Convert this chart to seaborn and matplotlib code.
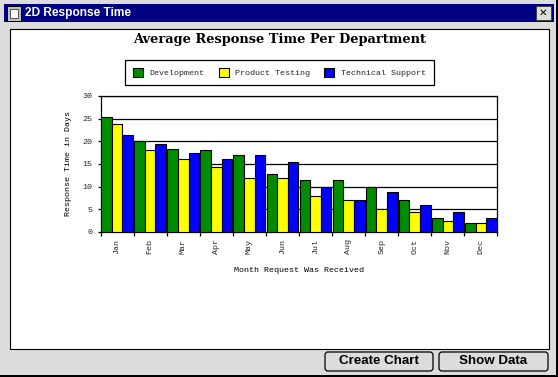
import pandas as pd
import seaborn as sns
import matplotlib.pyplot as plt
from matplotlib.patches import Rectangle, FancyBboxPatch

months = ['Jan', 'Feb', 'Mar', 'Apr', 'May', 'Jun', 'Jul', 'Aug', 'Sep', 'Oct', 'Nov', 'Dec']
development = [25.3, 20, 18.3, 18, 17, 12.8, 11.5, 11.5, 10, 7, 3, 2]
product_testing = [23.8, 18, 16, 14.4, 12, 12, 8, 7, 5, 4.4, 2.5, 2]
technical_support = [21.4, 19.5, 17.5, 16, 17, 15.4, 10, 7, 8.9, 6, 4.5, 3]
y_ticks = [0, 5, 10, 15, 20, 25, 30]

W, H = 558, 377

sns.set_style('white')
plt.rcParams['font.family'] = ['Liberation Mono', 'DejaVu Sans']

df = pd.DataFrame({
    'month': months * 3,
    'days': development + product_testing + technical_support,
    'dept': ['Development'] * 12 + ['Product Testing'] * 12 + ['Technical Support'] * 12,
})

fig = plt.figure(figsize=(W / 100, H / 100), dpi=100, facecolor='#dcdcdc')


def box(x0, y0, x1, y1, **kw):
    # pixel coords from the top left
    r = Rectangle((x0 / W, 1 - y1 / H), (x1 - x0) / W, (y1 - y0) / H,
                  transform=fig.transFigure, **kw)
    fig.add_artist(r)


def label(x, y, s, **kw):
    fig.text(x / W, 1 - y / H, s, ha='center', va='center', **kw)


def button(x0, y0, x1, y1, s):
    p = FancyBboxPatch((x0, H - y1), x1 - x0, y1 - y0, boxstyle='round,pad=0,rounding_size=3',
                       transform=None, fc='#dcdcdc', ec='black', lw=0.9)
    fig.add_artist(p)
    label((x0 + x1) / 2, (y0 + y1) / 2, s, family='Liberation Sans', weight='bold',
          fontsize=9.6, color='black')


# window frame
box(0, 0, W, H, fc='#dcdcdc', ec='none')
box(0, 375, W, H, fc='black', ec='none')
box(556, 0, W, H, fc='black', ec='none')
box(4, 4, 554, 22, fc='#000080', ec='none')
box(7, 6, 21, 21, fc='#c0c0c0', ec='black', lw=0.7)
box(10, 9, 18, 18, fc='white', ec='#404040', lw=0.6)
box(536, 6, 551, 20, fc='#dcdcdc', ec='#404040', lw=0.7)
label(543.5, 13, '✕', family='DejaVu Sans', fontsize=7.5, color='black')
fig.text(25 / W, 1 - 13 / H, '2D Response Time', family='Liberation Sans', weight='bold',
         fontsize=8.6, color='white', ha='left', va='center')
box(9.5, 28.5, 548.5, 348.5, fc='white', ec='black', lw=0.8)
button(325, 352, 433, 371, 'Create Chart')
button(439, 352, 548, 371, 'Show Data')

ax = fig.add_axes([100.5 / W, 1 - 232 / H, 397 / W, 136 / H])
ax.set_zorder(5)  # keep it above the window patches
ax.set_facecolor('white')
sns.barplot(data=df, x='month', y='days', hue='dept', order=months,
            palette=['#008c00', '#ffff00', '#0000ff'], saturation=1, width=0.96,
            edgecolor='black', linewidth=0.8, errorbar=None, zorder=3, ax=ax)

ax.set_xlim(-0.5, 11.5)
ax.set_ylim(0, 30)
ax.set_yticks(y_ticks)
ax.yaxis.grid(True, color='black', lw=0.9, zorder=1)
ax.set_axisbelow(True)
ax.set_xticks([i + 0.5 for i in range(-1, 12)], [''] * 13)
ax.set_xticks(range(12), months, minor=True, rotation=90, fontsize=6)
ax.tick_params(axis='x', which='major', bottom=True, length=3, width=0.9, color='black')
ax.tick_params(axis='x', which='minor', bottom=False, length=0, pad=5)
ax.tick_params(axis='y', left=True, length=2.5, width=0.9, color='black', labelsize=6, pad=3.5)
for s in ax.spines.values():
    s.set_visible(True)
    s.set_color('black')
    s.set_linewidth(0.9)

ax.set_xlabel('Month Request Was Received', fontsize=6, color='black')
ax.xaxis.set_label_coords(0.5, -0.255)
ax.set_ylabel('Response Time in Days', fontsize=6, color='black')
ax.yaxis.set_label_coords(-0.072, 0.5)

handles, names = ax.get_legend_handles_labels()
leg = ax.legend(handles, names, ncol=3, loc='center', bbox_to_anchor=(279.5 / W, 1 - 72.5 / H),
                bbox_transform=fig.transFigure, fontsize=6, frameon=True, fancybox=False,
                edgecolor='black', framealpha=1, handlelength=1.2, handleheight=1.2,
                columnspacing=1.68, handletextpad=0.83, borderpad=0.96, borderaxespad=0)
leg.get_frame().set_linewidth(0.9)

label(279.5, 39, 'Average Response Time Per Department', family='DejaVu Serif',
      weight='bold', fontsize=9.4, color='black')

plt.savefig('out.png', dpi=100, facecolor=fig.get_facecolor())
